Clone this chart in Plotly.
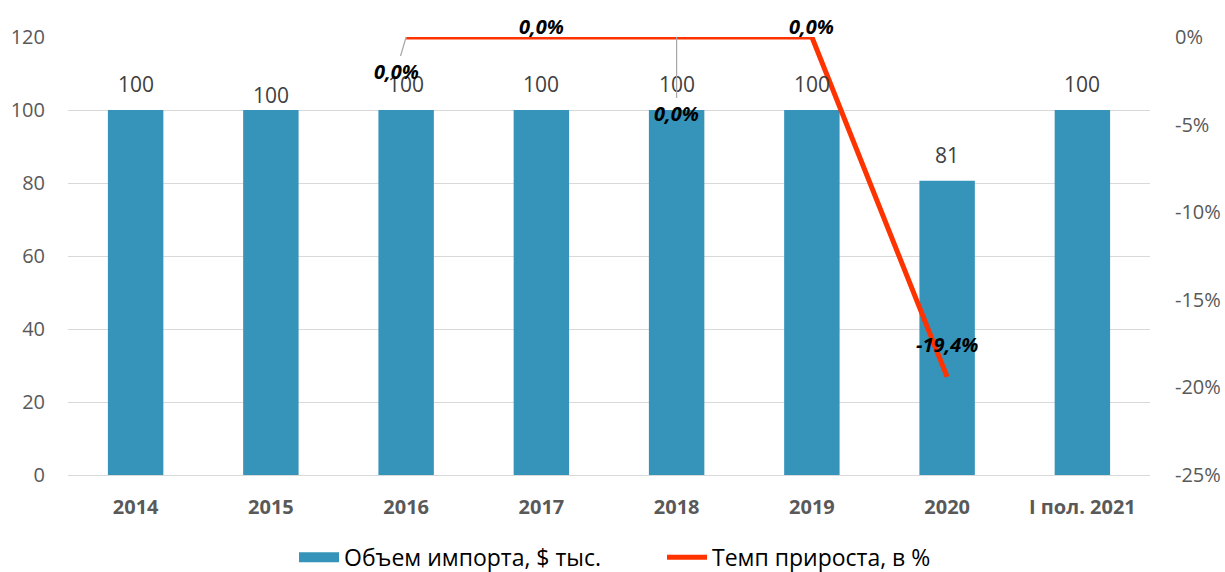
import plotly.graph_objects as go

categories = ["2014", "2015", "2016", "2017", "2018", "2019", "2020", "I пол. 2021"]
import_volume = [100, 100, 100, 100, 100, 100, 80.6, 100]
import_labels = ["100", "100", "100", "100", "100", "100", "81", "100"]
growth_rate = [None, None, 0.0, 0.0, 0.0, 0.0, -19.4, None]
growth_labels = [None, None, "0,0%", "0,0%", "0,0%", "0,0%", "-19,4%", None]
left_ticks = [0, 20, 40, 60, 80, 100, 120]
right_ticks = [-25, -20, -15, -10, -5, 0]
right_ticktext = ["-25%", "-20%", "-15%", "-10%", "-5%", "0%"]

BAR = "#3694BB"
LINE = "#FF3300"
FONT = "Open Sans"

fig = go.Figure()
fig.add_trace(go.Bar(
    x=categories, y=import_volume, name="Объем импорта, $ тыс.",
    marker=dict(color=BAR, line=dict(width=0)), width=0.41, yaxis="y",
    showlegend=False,
))
# legend proxy for the bar series (wide rectangle swatch)
fig.add_trace(go.Scatter(
    x=[None], y=[None], name="Объем импорта, $ тыс.", mode="lines",
    line=dict(color=BAR, width=17), yaxis="y", showlegend=True,
))
fig.add_trace(go.Scatter(
    x=categories, y=growth_rate, name="Темп прироста, в %",
    mode="lines", line=dict(color=LINE, width=5), yaxis="y2",
    connectgaps=False,
))

annotations = []
bar_shifts = [26, 15, 26, 26, 26, 26, 26, 26]
for i, (v, t, s) in enumerate(zip(import_volume, import_labels, bar_shifts)):
    annotations.append(dict(
        x=i, y=v, xref="x", yref="y", text=t, showarrow=False, yshift=s,
        font=dict(family=FONT, size=21, color="#404040"),
    ))

lab_font = dict(family=FONT, size=20, color="#000000", style="italic", weight="bold")
# label placements: (showarrow, ax, ay, yshift)
placements = {
    2: (True, -10, 34, 0),
    3: (False, 0, 0, 11),
    4: (True, 0, 76, 0),
    5: (False, 0, 0, 11),
    6: (False, 0, 0, 32),
}
for i, (v, t) in enumerate(zip(growth_rate, growth_labels)):
    if t is None:
        continue
    arrow, ax, ay, ys = placements[i]
    a = dict(x=i, y=v, xref="x", yref="y2", text=t, font=lab_font, yshift=ys)
    if arrow:
        a.update(showarrow=True, ax=ax, ay=ay, arrowhead=0, arrowwidth=1.2,
                 arrowcolor="#A6A6A6", standoff=0)
    else:
        a.update(showarrow=False)
    annotations.append(a)

fig.update_layout(
    width=1225, height=572,
    margin=dict(l=68, r=75, t=37, b=97, autoexpand=False),
    paper_bgcolor="white", plot_bgcolor="white",
    font=dict(family=FONT, color="#595959"),
    bargap=0.59,
    xaxis=dict(
        type="category", range=[-0.5, 7.5], showgrid=False, showline=True,
        linecolor="#D9D9D9", linewidth=1, ticks="", ticklabelstandoff=14,
        automargin=False,
        tickfont=dict(family=FONT, size=20, color="#595959", weight="bold"),
    ),
    yaxis=dict(
        range=[0, 120], tickvals=left_ticks, showgrid=True, gridcolor="#D9D9D9",
        gridwidth=1, zeroline=False, ticks="", ticklabelstandoff=22,
        automargin=False,
        tickfont=dict(family=FONT, size=20, color="#595959"),
    ),
    yaxis2=dict(
        range=[-25, 0], overlaying="y", side="right", tickvals=right_ticks,
        ticktext=right_ticktext, showgrid=False, zeroline=False, ticks="",
        automargin=False,
        tickfont=dict(family=FONT, size=20, color="#595959"), ticklabelstandoff=24,
    ),
    legend=dict(
        orientation="h", x=0.549, xanchor="center", y=-0.139, yanchor="top",
        font=dict(family=FONT, size=23, color="#000000"),
        itemwidth=40, traceorder="normal", entrywidth=313,
    ),
    annotations=annotations,
    showlegend=True,
)

fig.write_html(
    "out.html",
    config={"displayModeBar": False},
    post_script="document.body.style.margin='0';document.body.style.overflow='hidden';",
)
